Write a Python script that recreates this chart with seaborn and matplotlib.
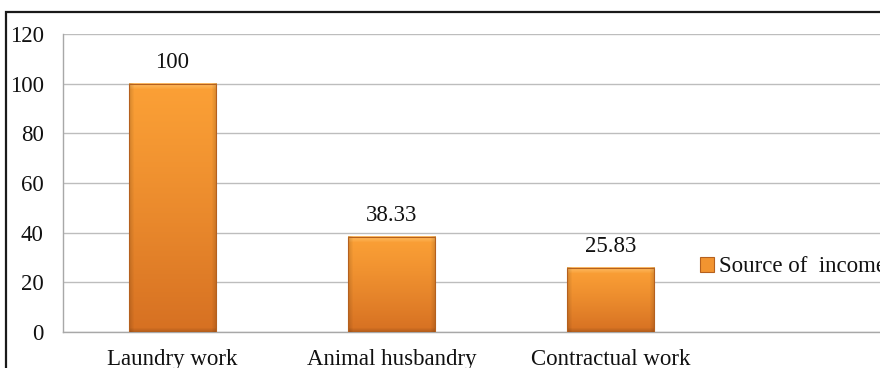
import numpy as np
import pandas as pd
import matplotlib
matplotlib.use("Agg")
import matplotlib.pyplot as plt
import seaborn as sns
from matplotlib.patches import Rectangle

categories = ["Laundry work", "Animal husbandry", "Contractual work"]
values = [100, 38.33, 25.83]
value_labels = ["100", "38.33", "25.83"]
series_name = "Source of  income"
y_ticks = [0, 20, 40, 60, 80, 100, 120]

sns.set_theme(style="white")
plt.rcParams["font.family"] = ["Liberation Serif", "DejaVu Serif"]

FS = 16.5
W, H = 880, 368
fig = plt.figure(figsize=(W / 100, H / 100), dpi=100)
fig.patch.set_facecolor("white")

# plot area in pixels (extends past the right edge of the canvas)
ax_left, ax_right, ax_top, ax_bottom = 63, 900, 34, 332
slot_px = 219.0
ax = fig.add_axes([ax_left / W, (H - ax_bottom) / H,
                   (ax_right - ax_left) / W, (ax_bottom - ax_top) / H])

df = pd.DataFrame({"category": categories, "value": values, "series": series_name})
sns.barplot(data=df, x="category", y="value", hue="series",
            palette=["#F29430"], width=0.4, saturation=1,
            edgecolor="#B5601E", linewidth=0.8, ax=ax, zorder=3)

xlim = (-0.5, -0.5 + (ax_right - ax_left) / slot_px)
ylim = (0, 120)
px_per_y = (ax_bottom - ax_top) / (ylim[1] - ylim[0])

# vertical orange gradient with a soft bevel on each bar
top_col = np.array([251, 160, 54]) / 255
bot_col = np.array([214, 112, 34]) / 255
hi_col = np.array([254, 196, 112]) / 255
for p in ax.containers[0]:
    x0, y0 = p.get_xy()
    w, h = p.get_width(), p.get_height()
    rows = max(int(round(h * px_per_y)), 2)
    cols = max(int(round(w * slot_px)), 2)
    t = np.linspace(0, 1, rows)[:, None, None] ** 1.2
    img = top_col * (1 - t) + bot_col * t
    img = np.repeat(img, cols, axis=1)
    r = np.arange(rows)[:, None, None]
    hi = np.clip(1 - r / 6.0, 0, 1) * 0.8
    img = img * (1 - hi) + hi_col * hi
    c = np.arange(cols)
    edge = np.minimum(c, cols - 1 - c)
    shade = 0.86 + 0.14 * np.clip(edge / 5.0, 0, 1)
    img = img * shade[None, :, None]
    rb = rows - 1 - np.arange(rows)
    bshade = 0.85 + 0.15 * np.clip(rb / 4.0, 0, 1)
    img = img * bshade[:, None, None]
    img = np.clip(img, 0, 1)
    ax.imshow(img, extent=(x0, x0 + w, y0, y0 + h), origin="upper",
              aspect="auto", zorder=3, clip_path=p, interpolation="bilinear")
    p.set_facecolor("none")
    p.set_zorder(4)

ax.set_xlim(*xlim)
ax.set_ylim(*ylim)
ax.set_yticks(y_ticks)
ax.set_yticklabels([str(v) for v in y_ticks])
ax.set_xlabel("")
ax.set_ylabel("")

ax.yaxis.grid(True, color="#BDBDBD", linewidth=1.0)
ax.xaxis.grid(False)
ax.set_axisbelow(True)
for side in ["top", "right"]:
    ax.spines[side].set_visible(False)
for side in ["left", "bottom"]:
    ax.spines[side].set_color("#A8A8A8")
    ax.spines[side].set_linewidth(1.0)

ax.tick_params(axis="y", length=0, pad=14, labelsize=FS, labelcolor="#111111")
ax.tick_params(axis="x", length=0, pad=12.5, labelsize=FS, labelcolor="#111111")

ax.bar_label(ax.containers[0], labels=value_labels, padding=8,
             fontsize=FS, color="#111111")

leg = ax.legend(loc="center left", bbox_to_anchor=(700 / W, (H - 267) / H),
                bbox_transform=fig.transFigure, frameon=False,
                handlelength=0.6, handleheight=0.6, handletextpad=0.22,
                fontsize=FS, borderpad=0, borderaxespad=0)
for hnd in leg.legend_handles:
    hnd.set_edgecolor("#B5601E")
for txt in leg.get_texts():
    txt.set_color("#111111")

# outer chart frame, cut off at the right and bottom
fig.add_artist(Rectangle((6 / W, -0.2), 1.5, (H - 12) / H + 0.2,
                         transform=fig.transFigure, fill=False,
                         edgecolor="#1A1A1A", linewidth=1.6))

fig.savefig("out.png", dpi=100)
